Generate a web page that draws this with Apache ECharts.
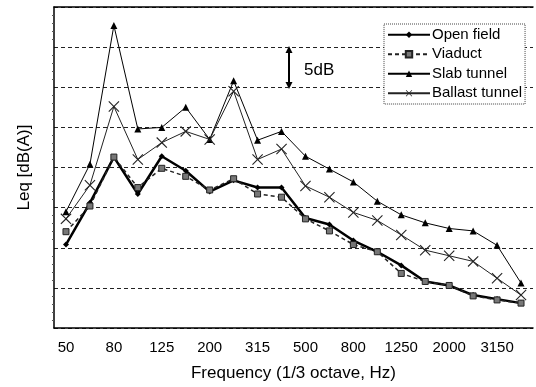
<!DOCTYPE html>
<html>
<head>
<meta charset="utf-8">
<script src="https://cdn.jsdelivr.net/npm/echarts@6/dist/echarts.min.js"></script>
<style>
html, body { margin: 0; padding: 0; background: #fff; }
#chart { width: 536px; height: 387px; }
</style>
</head>
<body>
<div id="chart"></div>
<script>
// 1/3 octave bands
var freqs = ['50', '63', '80', '100', '125', '160', '200', '250', '315', '400', '500', '630', '800', '1000', '1250', '1600', '2000', '2500', '3150', '4000'];
// relative levels, dB (axis has no numbers, grid step 5 dB)
var openField = [10.4, 15.6, 21.3, 16.7, 21.4, 19.6, 17.0, 18.4, 17.5, 17.5, 13.7, 12.9, 10.9, 9.5, 7.8, 5.8, 5.3, 4.1, 3.6, 3.1];
var viaduct = [12.0, 15.2, 21.3, 17.5, 19.9, 18.9, 17.2, 18.6, 16.7, 16.3, 13.6, 12.1, 10.4, 9.5, 6.8, 5.8, 5.3, 4.0, 3.5, 3.1];
var slabTunnel = [14.5, 20.4, 37.7, 24.8, 25.0, 27.5, 23.5, 30.8, 23.4, 24.5, 21.4, 19.8, 18.2, 15.8, 14.1, 13.1, 12.4, 12.1, 10.3, 5.6];
var ballastTunnel = [13.6, 17.8, 27.6, 21.0, 23.1, 24.5, 23.5, 29.5, 21.0, 22.3, 17.7, 16.3, 14.4, 13.4, 11.6, 9.7, 9.0, 8.3, 6.2, 4.1];

var xMark = 'path://M0,0.7L0.7,0L5,4.3L9.3,0L10,0.7L5.7,5L10,9.3L9.3,10L5,5.7L0.7,10L0,9.3L4.3,5Z';
var font = 'Liberation Sans, Arial, sans-serif';

var myChart = echarts.init(document.getElementById('chart'));
var options = {
	animation: false,
	textStyle: { fontFamily: font, color: '#000' },
	grid: { left: 54, top: 7, right: 3, bottom: 57 },
	legend: {
		orient: 'vertical',
		left: 384,
		top: 24,
		padding: [3, 3, 3, 3],
		itemGap: 4,
		itemWidth: 42,
		itemHeight: 8,
		backgroundColor: '#fff',
		borderColor: '#444',
		borderWidth: 1,
		borderType: 'dotted',
		textStyle: { fontFamily: font, fontSize: 15, lineHeight: 15.5, color: '#000', padding: [0, 0, 0, -3] },
		data: ['Open field', 'Viaduct', 'Slab tunnel', 'Ballast tunnel']
	},
	xAxis: [{
		type: 'category',
		data: freqs,
		boundaryGap: true,
		name: 'Frequency (1/3 octave, Hz)',
		nameLocation: 'middle',
		nameGap: 37,
		nameTextStyle: { fontSize: 17, color: '#000', fontFamily: font },
		axisLine: { lineStyle: { color: '#000', width: 1.5 } },
		axisTick: { inside: true, length: 4, interval: 0, lineStyle: { color: '#000' } },
		axisLabel: { interval: 1, fontSize: 15, color: '#000', margin: 12, fontFamily: font },
		splitLine: { show: false }
	}, {
		type: 'category',
		data: freqs,
		position: 'top',
		axisLine: { lineStyle: { color: '#000', width: 1.5 } },
		axisTick: { show: false },
		axisLabel: { show: false }
	}],
	yAxis: {
		type: 'value',
		min: 0,
		max: 40,
		interval: 5,
		name: 'Leq [dB(A)]',
		nameLocation: 'middle',
		nameGap: 21,
		nameTextStyle: { fontSize: 17, color: '#000', fontFamily: font },
		axisLine: { show: true, lineStyle: { color: '#000', width: 1.5 } },
		axisTick: { show: false },
		minorTick: { show: true, splitNumber: 5, length: 2, lineStyle: { color: '#555' } },
		axisLabel: { show: false },
		splitLine: { show: true, lineStyle: { color: '#222', type: [4, 3], width: 1 } }
	},
	series: [{
		name: 'Open field',
		type: 'line',
		data: openField,
		symbol: 'diamond',
		symbolSize: 6,
		color: '#000',
		lineStyle: { color: '#000', width: 2.5 },
		itemStyle: { color: '#000' }
	}, {
		name: 'Viaduct',
		type: 'line',
		data: viaduct,
		symbol: 'rect',
		symbolSize: 6,
		color: '#444',
		lineStyle: { color: '#222', width: 1.5, type: [4, 3] },
		itemStyle: { color: '#777', borderColor: '#222', borderWidth: 1 }
	}, {
		name: 'Slab tunnel',
		type: 'line',
		data: slabTunnel,
		symbol: 'triangle',
		symbolSize: 7,
		color: '#000',
		lineStyle: { color: '#000', width: 1 },
		itemStyle: { color: '#000' }
	}, {
		name: 'Ballast tunnel',
		type: 'line',
		data: ballastTunnel,
		symbol: xMark,
		symbolSize: 11,
		color: '#222',
		lineStyle: { color: '#222', width: 1 },
		itemStyle: { color: '#222' }
	}],
	graphic: [{
		type: 'line',
		shape: { x1: 289, y1: 51, x2: 289, y2: 84 },
		style: { stroke: '#000', lineWidth: 2 }
	}, {
		type: 'polygon',
		shape: { points: [[289, 46], [285.5, 53], [292.5, 53]] },
		style: { fill: '#000' }
	}, {
		type: 'polygon',
		shape: { points: [[289, 89], [285.5, 82], [292.5, 82]] },
		style: { fill: '#000' }
	}, {
		type: 'text',
		left: 304,
		top: 62,
		style: { text: '5dB', fontSize: 17, fill: '#000', fontFamily: font }
	}]
};
myChart.setOption(options);
</script>
</body>
</html>
